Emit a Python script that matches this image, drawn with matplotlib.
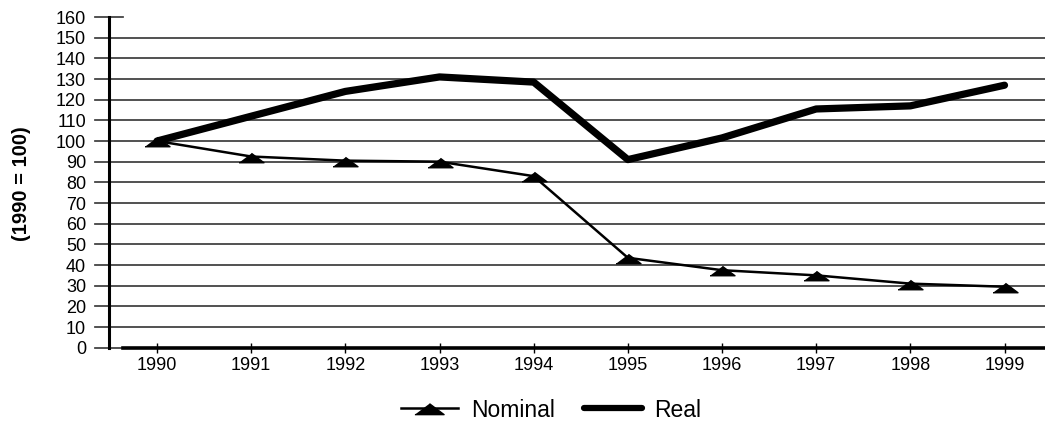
import matplotlib
matplotlib.use("Agg")
import matplotlib.pyplot as plt
from matplotlib.lines import Line2D

plt.rcParams['font.family'] = ['Liberation Sans', 'DejaVu Sans']

# Index values (1990 = 100)
years = [1990, 1991, 1992, 1993, 1994, 1995, 1996, 1997, 1998, 1999]
nominal = [100, 92.5, 90.5, 90, 83, 43.5, 37.5, 35, 31, 29.5]
real = [100, 112, 124, 131, 128.5, 91, 101.5, 115.5, 117, 127]
y_ticks = list(range(0, 161, 10))

W, H = 1045, 423
fig = plt.figure(figsize=(W / 100, H / 100), dpi=100)
ax = fig.add_axes([109 / W, 1 - 347.7 / H, 936 / W, (347.7 - 17) / H])

ax.set_xlim(1989.49, 1999.43)
ax.set_ylim(0, 160)

# horizontal grid rules, reaching slightly past the left axis
ytr = ax.get_yaxis_transform()
stub = -14 / 936
for v in y_ticks:
    if v in (0, 160):
        x0, x1 = stub, 14 / 936
    else:
        x0, x1 = stub, 1
    ax.plot([x0, x1], [v, v], transform=ytr, color='#3c3c3c', lw=1.25,
            clip_on=False, zorder=1)

# flat triangle marker
tri = [(-1, -0.42), (1, -0.42), (0, 0.33)]

ax.plot(years, nominal, color='black', lw=1.8, marker=tri, markersize=18,
        markerfacecolor='black', markeredgecolor='black', zorder=3)
ax.plot(years, real, color='black', lw=5.2, solid_capstyle='round',
        solid_joinstyle='round', zorder=4)

for s in ['top', 'right']:
    ax.spines[s].set_visible(False)
ax.spines['left'].set_linewidth(2.2)
ax.spines['bottom'].set_linewidth(2.6)
ax.spines['bottom'].set_bounds(1989.49 + 14 / 94.2, 1999.43)

ax.set_yticks(y_ticks)
ax.set_yticklabels([str(v) for v in y_ticks], fontsize=13)
ax.tick_params(axis='y', length=0, pad=16.5)

ax.set_xticks(years)
ax.set_xticklabels([str(y) for y in years], fontsize=13)
ax.tick_params(axis='x', direction='inout', length=7, width=1, pad=3)

fig.text(21.5 / W, 1 - 184 / H, '(1990 = 100)', rotation=90, fontsize=14.5,
         fontweight='bold', ha='center', va='center')

handles = [
    Line2D([], [], color='black', lw=1.8, marker=tri, markersize=21,
           markerfacecolor='black'),
    Line2D([], [], color='black', lw=4.5, solid_capstyle='round'),
]
fig.legend(handles, ['Nominal', 'Real'], loc='center',
           bbox_to_anchor=(551 / W, 1 - 410 / H), ncol=2, frameon=False,
           fontsize=16.5, handlelength=2.5, handletextpad=0.55,
           columnspacing=1.3, numpoints=1, borderpad=0, borderaxespad=0)

fig.savefig('out.png', dpi=100)
